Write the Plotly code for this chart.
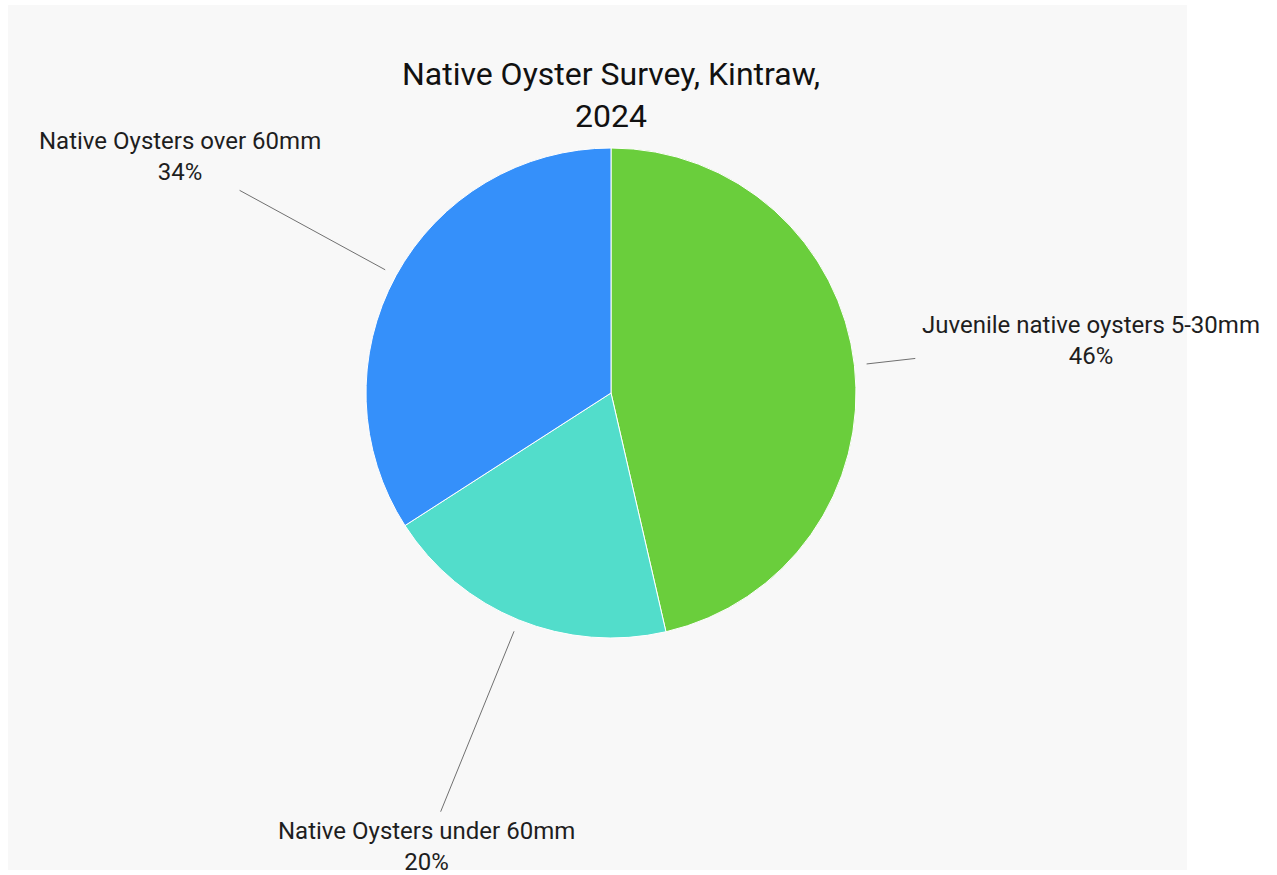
import math
import plotly.graph_objects as go

# ---- data ----
labels = ["Juvenile native oysters 5-30mm", "Native Oysters under 60mm", "Native Oysters over 60mm"]
values = [46.4, 19.5, 34.1]
colors = ["#6ACE3C", "#52DDCB", "#3590FA"]
title_text = "Native Oyster Survey, Kintraw,<br>2024"

# ---- layout constants ----
W, H = 1277, 875
CX, CY, R = 611, 393, 245           # pie centre / radius in pixels
leader_start = 1.05
leader_end = [1.25, 1.845, 1.727]
label_anchor = [("left", "middle", 5, 18), ("center", "top", -14, -3), ("center", "bottom", -60, 2)]

def px(x):
    return x / W

def py(y):
    return 1 - y / H

fig = go.Figure(go.Pie(
    labels=labels, values=values, sort=False, direction="clockwise", rotation=0,
    marker=dict(colors=colors, line=dict(color="white", width=1)),
    textinfo="none", hoverinfo="label+percent", showlegend=False,
    domain=dict(x=[px(CX - R), px(CX + R)], y=[py(CY + R), py(CY - R)]),
))

shapes = [dict(type="rect", xref="paper", yref="paper", x0=px(8), x1=px(1187), y0=py(870), y1=py(5),
               fillcolor="#f8f8f8", line=dict(width=0), layer="below")]
annotations = []
total = sum(values)
cum = 0.0
for i, v in enumerate(values):
    mid = (cum + v / 2) / total * 2 * math.pi
    cum += v
    dx, dy = math.sin(mid), -math.cos(mid)
    x0, y0 = CX + dx * R * leader_start, CY + dy * R * leader_start
    x1, y1 = CX + dx * R * leader_end[i], CY + dy * R * leader_end[i]
    shapes.append(dict(type="line", xref="paper", yref="paper", x0=px(x0), y0=py(y0), x1=px(x1), y1=py(y1),
                       line=dict(color="#707070", width=1), layer="above"))
    xa, ya, xs, ys = label_anchor[i]
    pct = v / total * 100
    annotations.append(dict(xref="paper", yref="paper", x=px(x1), y=py(y1), xanchor=xa, yanchor=ya,
                            xshift=xs, yshift=ys, showarrow=False, align="center",
                            text=f"{labels[i]}<br>{pct:.0f}%",
                            font=dict(family="Roboto", size=24, color="#1e1e1e")))

fig.update_layout(
    width=W, height=H, margin=dict(l=0, r=0, t=0, b=0),
    paper_bgcolor="white", plot_bgcolor="white",
    title=dict(text=title_text, x=px(611), xanchor="center", y=py(85), yanchor="top",
               font=dict(family="Roboto", size=32, color="#111111")),
    shapes=shapes, annotations=annotations,
)

fig.write_html("out.html")
